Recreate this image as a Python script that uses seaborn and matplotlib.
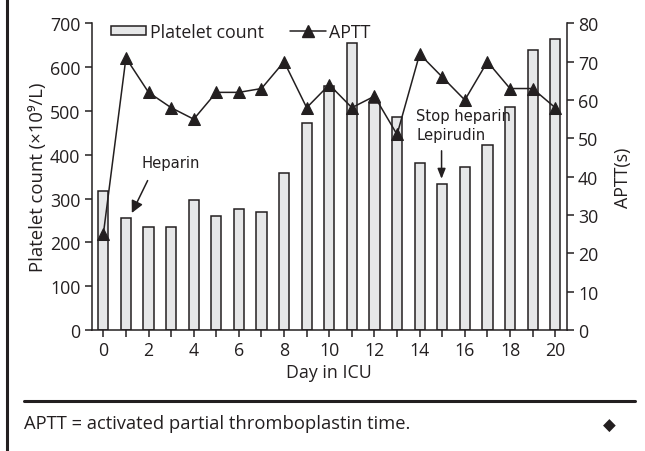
import matplotlib
matplotlib.use("Agg")
import matplotlib.pyplot as plt
import seaborn as sns
import numpy as np
import pandas as pd
from matplotlib.patches import Patch
from matplotlib.lines import Line2D

days = list(range(21))
platelets = [318, 256, 234, 234, 297, 261, 275, 270, 359, 472, 558, 656,
             518, 486, 382, 333, 371, 423, 510, 639, 664]
aptt = [25, 71, 62, 58, 55, 62, 62, 63, 70, 58, 64, 58,
        61, 51, 72, 66, 60, 70, 63, 63, 58]
xtick_labels = [str(d) if d % 2 == 0 else "" for d in days]
left_ticks = [0, 100, 200, 300, 400, 500, 600, 700]
right_ticks = [0, 10, 20, 30, 40, 50, 60, 70, 80]

df = pd.DataFrame({"day": days, "platelets": platelets, "aptt": aptt})

sns.set_theme(style="white")
plt.rcParams['font.family'] = ['Open Sans', 'DejaVu Sans']
INK = '#231f20'
plt.rcParams['text.color'] = INK
plt.rcParams['axes.labelcolor'] = INK
plt.rcParams['xtick.color'] = INK
plt.rcParams['ytick.color'] = INK
FS = 12.8

fig = plt.figure(figsize=(6.45, 4.52), dpi=100)
ax = fig.add_axes([0.142, 0.268, 0.737, 0.678])

sns.barplot(data=df, x="day", y="platelets", native_scale=True, width=0.45,
            color='#e6e7e8', edgecolor=INK, linewidth=1.1, saturation=1, ax=ax)
ax.set_xlim(-0.52, 20.52)
ax.set_ylim(0, 700)

ax2 = ax.twinx()
sns.lineplot(data=df, x="day", y="aptt", marker='^', markersize=8.5, color=INK,
             markeredgecolor=INK, linewidth=1.1, ax=ax2)
ax2.set_ylim(0, 80)
ax2.set_xlim(-0.52, 20.52)

for a in (ax, ax2):
    a.set_facecolor('none')
    for s in a.spines.values():
        s.set_visible(False)
ax.spines['left'].set_visible(True)
ax.spines['bottom'].set_visible(True)
ax2.spines['right'].set_visible(True)
for s in (ax.spines['left'], ax.spines['bottom'], ax2.spines['right']):
    s.set_color(INK)
    s.set_linewidth(1.1)

ax.set_xticks(days)
ax.set_xticklabels(xtick_labels)
ax.set_yticks(left_ticks)
ax2.set_yticks(right_ticks)
ax.tick_params(axis='both', direction='out', length=5, width=1.1, labelsize=FS,
               bottom=True, left=True, pad=3)
ax2.tick_params(axis='y', direction='out', length=5, width=1.1, labelsize=FS,
                right=True, pad=3)

ax.set_xlabel("Day in ICU", fontsize=FS, labelpad=3)
ax.set_ylabel("Platelet count (×10⁹/L)", fontsize=13.3, labelpad=2)
ax2.set_ylabel("APTT(s)", fontsize=FS, labelpad=11)

narrow = dict(family=['DejaVu Sans'], fontstretch='condensed')
AFS = 11.8
ax2.text(3.0, 383 * 80 / 700, "Heparin", fontsize=AFS, ha='center',
         va='center', **narrow)
ax2.annotate('', xy=(1.26, 267 * 80 / 700), xytext=(1.96, 341 * 80 / 700),
             arrowprops=dict(arrowstyle='-|>,head_length=0.6,head_width=0.3',
                             color=INK, lw=1.1, shrinkA=0, shrinkB=0))
ax2.text(13.85, 468 * 80 / 700, "Stop heparin\nLepirudin", fontsize=AFS,
         ha='left', va='center', linespacing=1.3, **narrow)
ax2.annotate('', xy=(14.97, 345 * 80 / 700), xytext=(14.97, 409 * 80 / 700),
             arrowprops=dict(arrowstyle='-|>,head_length=0.5,head_width=0.2',
                             color=INK, lw=1.1, shrinkA=0, shrinkB=0))

handles = [Patch(facecolor='#e6e7e8', edgecolor=INK, linewidth=1.1),
           Line2D([], [], color=INK, marker='^', markersize=8.5, linewidth=1.1)]
ax2.legend(handles, ["Platelet count", "APTT"], loc='center left',
           bbox_to_anchor=(0.04, 0.973), ncol=2, frameon=False, fontsize=FS,
           handlelength=2.0, handleheight=0.4, handletextpad=0.2,
           columnspacing=1.5, borderpad=0, borderaxespad=0)

fig.add_artist(Line2D([0.0104, 0.0104], [0, 1], color=INK, lw=2.2,
                      transform=fig.transFigure))
fig.add_artist(Line2D([0.037, 0.984], [0.111, 0.111], color=INK, lw=2.2,
                      transform=fig.transFigure))
fig.text(0.037, 0.061, "APTT = activated partial thromboplastin time.",
         fontsize=13.2, ha='left', va='center')
fig.text(0.944, 0.058, "◆", family=['DejaVu Sans'], fontsize=12,
         ha='center', va='center')

fig.savefig("out.png", dpi=100)
